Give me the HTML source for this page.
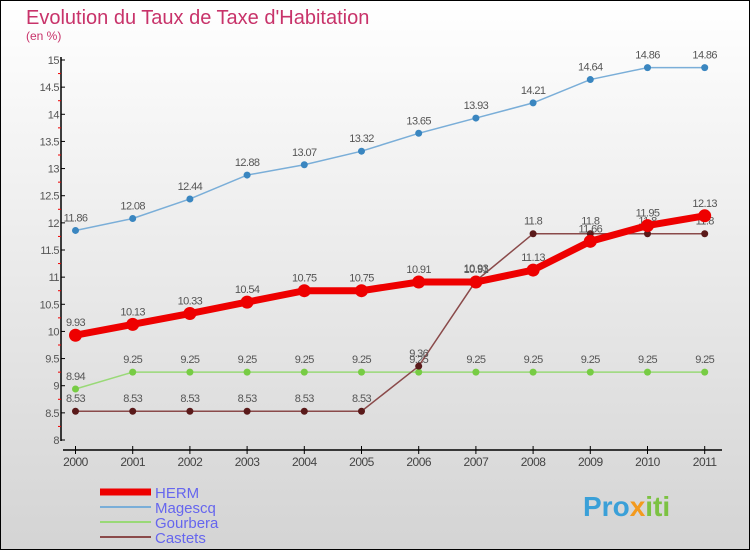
<!DOCTYPE html>
<html><head><meta charset="utf-8"><style>
html,body{margin:0;padding:0}
body{width:750px;height:550px;overflow:hidden;font-family:"Liberation Sans",sans-serif}
</style></head><body>
<svg id="chart" width="750" height="550" xmlns="http://www.w3.org/2000/svg">
<defs><linearGradient id="bg" x1="0" y1="0" x2="0" y2="1"><stop offset="0" stop-color="#ffffff"/><stop offset="1" stop-color="#d4d4d4"/></linearGradient></defs>
<rect x="0.5" y="0.5" width="749" height="549" fill="url(#bg)" stroke="#000"/>
<text x="26" y="24" font-size="20" fill="#c8336a">Evolution du Taux de Taxe d'Habitation</text>
<text x="26" y="40" font-size="12" fill="#c8336a">(en %)</text>
<g id="axes"></g>
<g id="series"></g>
<g id="legend"></g>
<text x="583" y="516" font-size="28" font-weight="bold" fill="#3aa0d8">Pro<tspan fill="#f39a1e">x</tspan><tspan fill="#7cc242">iti</tspan></text>
</svg>
<script>
const years=[2000,2001,2002,2003,2004,2005,2006,2007,2008,2009,2010,2011];
const herm=[9.93,10.13,10.33,10.54,10.75,10.75,10.91,10.91,11.13,11.66,11.95,12.13];
const magescq=[11.86,12.08,12.44,12.88,13.07,13.32,13.65,13.93,14.21,14.64,14.86,14.86];
const gourbera=[8.94,9.25,9.25,9.25,9.25,9.25,9.25,9.25,9.25,9.25,9.25,9.25];
const castets=[8.53,8.53,8.53,8.53,8.53,8.53,9.36,10.93,11.8,11.8,11.8,11.8];
const yTicks=[8,8.5,9,9.5,10,10.5,11,11.5,12,12.5,13,13.5,14,14.5,15];
const NS="http://www.w3.org/2000/svg";
const xs=i=>75.5+i*57.2;
const ys=v=>440-(v-8)*(380/7);
function mk(t,a,p){const e=document.createElementNS(NS,t);for(const k in a)e.setAttribute(k,a[k]);p.appendChild(e);return e;}
const ax=document.getElementById('axes');
let yl=mk('line',{x1:61,y1:57,x2:61,y2:441,stroke:'#000','stroke-width':1.5},ax);


yTicks.forEach(v=>{
 mk('line',{x1:61,x2:65,y1:ys(v),y2:ys(v),stroke:'#000'},ax);
 if(v<15){let m=mk('line',{x1:58,x2:61,y1:ys(v+0.25),y2:ys(v+0.25),stroke:'#e00'},ax);}
 let t=mk('text',{x:59,y:ys(v)+4,'font-size':11,fill:'#555','text-anchor':'end','letter-spacing':'-0.5'},ax);
 
 
 t.textContent=String(v);
});
let xl=mk('line',{x1:63,y1:450,x2:722,y2:450,stroke:'#000','stroke-width':1.5},ax);


years.forEach((y,i)=>{
 mk('line',{x1:xs(i),x2:xs(i),y1:446,y2:454,stroke:'#000'},ax);
 let t=mk('text',{x:xs(i),y:466,'font-size':12,fill:'#444','text-anchor':'middle','letter-spacing':'-0.5'},ax);
 
 
 t.textContent=y;
});
const sg=document.getElementById('series');
const defs=[
 {n:'gourbera',d:gourbera,c:'#99d977',dc:'#77cc44',w:1.5,r:3.5},
 {n:'castets',d:castets,c:'#8a4a4a',dc:'#5a1a1a',w:1.5,r:3.5},
 {n:'magescq',d:magescq,c:'#7aaed8',dc:'#3a86c0',w:1.5,r:3.5},
 {n:'herm',d:herm,c:'#ee0000',dc:'#ee0000',w:7,r:6.5}
];
defs.forEach(s=>{
 const g=mk('g',{},sg);
 
 
 let pl=mk('polyline',{points:s.d.map((v,i)=>xs(i)+','+ys(v)).join(' '),fill:'none',stroke:s.c,'stroke-width':s.w},g);
 
 
 s.d.forEach((v,i)=>{
  let c=mk('circle',{cx:xs(i),cy:ys(v),r:s.r,fill:s.dc},g);
  
  
  let t=mk('text',{x:xs(i),y:ys(v)-9,'font-size':11,fill:'#555','text-anchor':'middle','letter-spacing':'-0.6'},g);
  
  
  t.textContent=String(v);
 });
});
const lg=document.getElementById('legend');
[['HERM','#ee0000',7],['Magescq','#7aaed8',2],['Gourbera','#99d977',2],['Castets','#8a4a4a',2]].forEach((e,i)=>{
 const y=492+i*15;
 let l=mk('line',{x1:100,x2:151,y1:y,y2:y,stroke:e[1],'stroke-width':e[2]},lg);
 
 
 let t=mk('text',{x:155,y:y+6,'font-size':15,fill:'#6666ee'},lg);
 
 
 t.textContent=e[0];
});
</script>
</body></html>
